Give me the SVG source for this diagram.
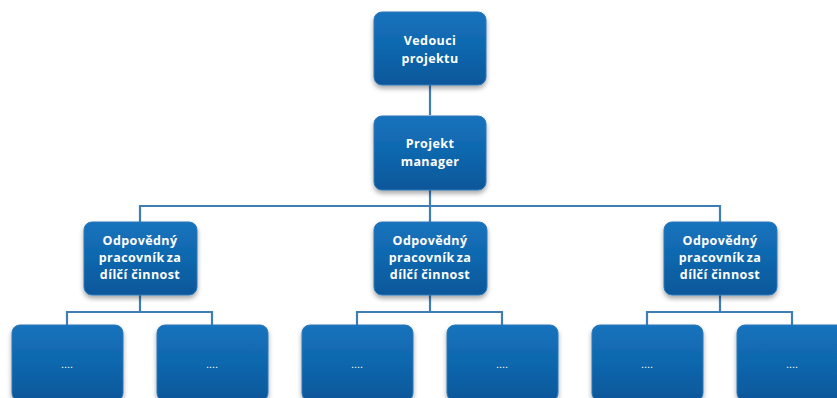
<svg xmlns="http://www.w3.org/2000/svg" width="837" height="398" viewBox="0 0 837 398">
<defs>
<linearGradient id="g" x1="0" y1="0" x2="0" y2="1">
<stop offset="0" stop-color="#1773bd"/>
<stop offset="0.5" stop-color="#0f67ad"/>
<stop offset="1" stop-color="#08579a"/>
</linearGradient>
<filter id="sh" x="-20%" y="-20%" width="140%" height="150%">
<feGaussianBlur in="SourceAlpha" stdDeviation="2.5"/>
<feOffset dx="0" dy="3" result="b"/>
<feComponentTransfer><feFuncA type="linear" slope="0.35"/></feComponentTransfer>
<feMerge><feMergeNode/><feMergeNode in="SourceGraphic"/></feMerge>
</filter>
</defs>
<style>
.box{fill:url(#g);stroke:#2c79b8;stroke-width:1;filter:url(#sh)}
.t{font-family:"Open Sans","Liberation Sans",sans-serif;font-weight:bold;font-size:12.5px;fill:#ffffff;text-anchor:middle;letter-spacing:0.4px}
.d{font-family:"Liberation Sans",sans-serif;font-size:11px;fill:#ffffff;text-anchor:middle}
.c{fill:none;stroke:#3f7db5;stroke-width:2.2}
</style>
<g id="connectors">
<path class="c" d="M430 85 V115"/>
<path class="c" d="M430 190 V206 M140 222 V206 H720 V222 M430 206 V222"/>
<path class="c" d="M140 295 V312 M67 325 V312 H212 V325"/>
<path class="c" d="M430 295 V312 M357 325 V312 H502 V325"/>
<path class="c" d="M720 295 V312 M647 325 V312 H792 V325"/>
</g>
<g id="n-vedouci">
<rect class="box" x="374" y="12" width="112" height="73" rx="8"/>
<text class="t" x="430" y="45">Vedouci</text>
<text class="t" x="430" y="63">projektu</text>
</g>
<g id="n-pm">
<rect class="box" x="374" y="116" width="112" height="74" rx="8"/>
<text class="t" x="430" y="148">Projekt</text>
<text class="t" x="430" y="166">manager</text>
</g>
<g id="n-odp1">
<rect class="box" x="84" y="222" width="113" height="73" rx="8"/>
<text class="t" x="140" y="245">Odpovědný</text>
<text class="t" x="140" y="262" word-spacing="-1.5">pracovník za</text>
<text class="t" x="140" y="279">dílčí činnost</text>
</g>
<g id="n-odp2">
<rect class="box" x="374" y="222" width="113" height="73" rx="8"/>
<text class="t" x="430" y="245">Odpovědný</text>
<text class="t" x="430" y="262" word-spacing="-1.5">pracovník za</text>
<text class="t" x="430" y="279">dílčí činnost</text>
</g>
<g id="n-odp3">
<rect class="box" x="664" y="222" width="113" height="73" rx="8"/>
<text class="t" x="720" y="245">Odpovědný</text>
<text class="t" x="720" y="262" word-spacing="-1.5">pracovník za</text>
<text class="t" x="720" y="279">dílčí činnost</text>
</g>
<g id="n-b1"><rect class="box" x="12" y="325" width="111" height="76" rx="8"/><text class="d" x="67" y="368">....</text></g>
<g id="n-b2"><rect class="box" x="157" y="325" width="111" height="76" rx="8"/><text class="d" x="212" y="368">....</text></g>
<g id="n-b3"><rect class="box" x="302" y="325" width="111" height="76" rx="8"/><text class="d" x="357" y="368">....</text></g>
<g id="n-b4"><rect class="box" x="447" y="325" width="111" height="76" rx="8"/><text class="d" x="502" y="368">....</text></g>
<g id="n-b5"><rect class="box" x="592" y="325" width="111" height="76" rx="8"/><text class="d" x="647" y="368">....</text></g>
<g id="n-b6"><rect class="box" x="737" y="325" width="111" height="76" rx="8"/><text class="d" x="792" y="368">....</text></g>
</svg>
